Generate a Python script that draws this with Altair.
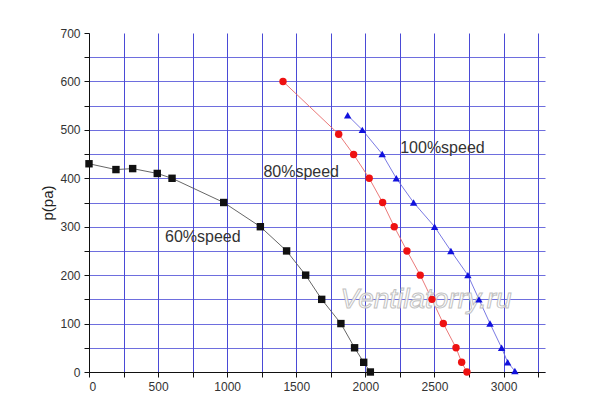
import pandas as pd
import altair as alt

# fan curves: flow (x) and pressure p(pa) (y)
flow_60 = [0, 195, 316, 494, 601, 975, 1240, 1430, 1568, 1684, 1823, 1922, 1988, 2036]
p_60 = [430, 418, 420, 410, 400, 350, 300, 250, 200, 150, 100, 50, 20, 0]

flow_80 = [1404, 1807, 1915, 2028, 2125, 2209, 2301, 2397, 2482, 2564, 2656, 2697, 2735]
p_80 = [600, 491, 449, 400, 350, 300, 250, 200, 150, 100, 50, 20, 0]

flow_100 = [1872, 1978, 2122, 2224, 2349, 2501, 2619, 2742, 2822, 2902, 2986, 3030, 3082]
p_100 = [530, 500, 450, 400, 350, 300, 250, 200, 150, 100, 50, 20, 2]

series = ['60%speed', '80%speed', '100%speed']
colors = ['#111111', '#ee1111', '#1111dd']
line_colors = ['#555555', '#e86a6a', '#6a6ae0']
shapes = ['square', 'circle', 'triangle-up']
sizes = [55, 55, 90]

label_text = ['60%speed', '80%speed', '100%speed']
label_x = [550, 1262, 2252]
label_y = [279, 413, 462]

x_ticks = list(range(0, 3251, 250))
y_ticks = list(range(0, 701, 50))


def build_df():
    rows = []
    for name, xs, ys in zip(series, [flow_60, flow_80, flow_100], [p_60, p_80, p_100]):
        for i, (x, y) in enumerate(zip(xs, ys)):
            rows.append({'series': name, 'marker': name + ' ', 'flow': x, 'p': y, 'idx': i})
    return pd.DataFrame(rows)


df = build_df()
labels_df = pd.DataFrame({'text': label_text, 'flow': label_x, 'p': label_y})
mark_df = pd.DataFrame({'text': ['Ventilatorry.ru'], 'flow': [1820], 'p': [148]})

x_axis = alt.Axis(title=None, values=x_ticks, format='d',
                  labelExpr="datum.value % 500 == 0 ? datum.label : ''",
                  grid=True)
y_axis = alt.Axis(title='p(pa)', values=y_ticks, format='d',
                  labelExpr="datum.value % 100 == 0 ? datum.label : ''",
                  grid=True,
                  gridOpacity=alt.condition("datum.value == 700", alt.value(0), alt.value(0.8)))
x_scale = alt.Scale(domain=[0, 3300], nice=False, zero=False)
y_scale = alt.Scale(domain=[0, 700], nice=False)


def xy():
    return dict(x=alt.X('flow:Q', scale=x_scale, axis=x_axis),
                y=alt.Y('p:Q', scale=y_scale, axis=y_axis))


lines = alt.Chart(df).mark_line(strokeWidth=0.9).encode(
    **xy(),
    color=alt.Color('series:N', scale=alt.Scale(domain=series, range=line_colors), legend=None),
    order='idx:Q',
)

marker_names = [s + ' ' for s in series]
points = alt.Chart(df).mark_point(filled=True, opacity=1).encode(
    **xy(),
    color=alt.Color('marker:N', scale=alt.Scale(domain=marker_names, range=colors), legend=None),
    shape=alt.Shape('marker:N', scale=alt.Scale(domain=marker_names, range=shapes), legend=None),
    size=alt.Size('marker:N', scale=alt.Scale(domain=marker_names, range=sizes), legend=None),
)

texts = alt.Chart(labels_df).mark_text(
    align='left', baseline='middle', fontSize=16, font='Liberation Sans', color='#333333'
).encode(**xy(), text='text:N')

watermark = alt.Chart(mark_df).mark_text(
    align='left', baseline='middle', fontSize=28, font='Liberation Sans', fontStyle='italic',
    color='white', stroke='#bbbbbb', strokeWidth=1, opacity=0.9
).encode(**xy(), text='text:N')

chart = alt.layer(lines, watermark, points, texts).resolve_scale(
    color='independent'
).properties(
    width=456,
    height=339,
    autosize=alt.AutoSizeParams(type='none'),
    padding={'left': 81, 'top': 25, 'right': 10, 'bottom': 30},
).configure_view(
    stroke=None
).configure_axis(
    gridColor='#4a4ad6',
    gridWidth=1,
    domainColor='#111111',
    tickColor='#111111',
    tickSize=5,
    labelFontSize=12,
    labelFont='Liberation Sans',
    labelColor='#333333',
    titleFont='Liberation Sans',
    titleFontSize=15,
    titleFontWeight='normal',
    titleColor='#222222',
    labelPadding=4,
)

chart.save("out.html", embed_options={"renderer": "svg", "actions": False})
